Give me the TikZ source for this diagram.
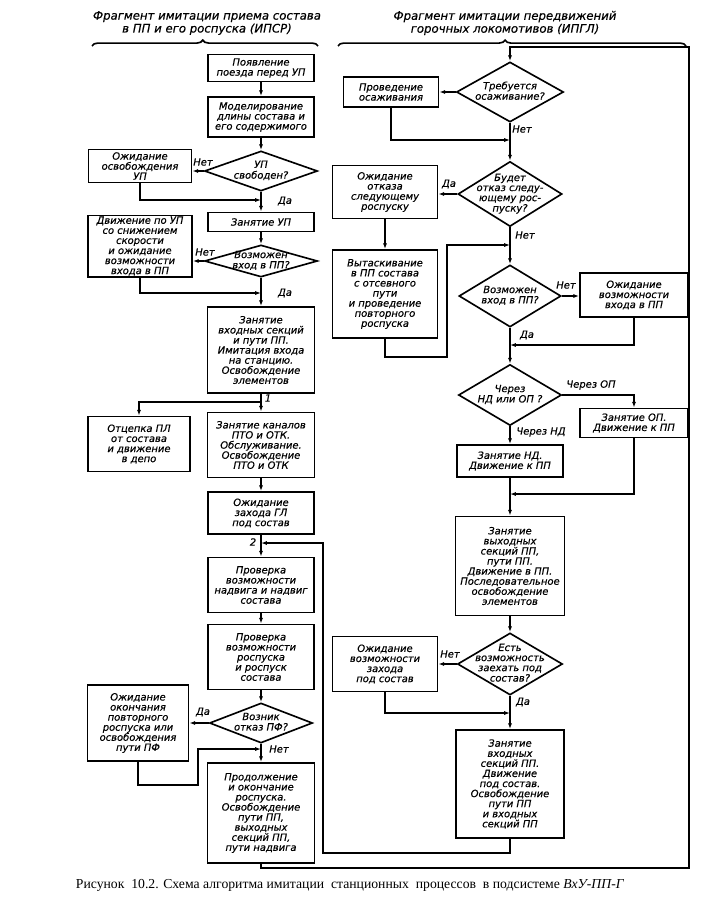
\documentclass[tikz,border=0pt]{standalone}
\usepackage{fontspec}
\setmainfont{Liberation Serif}
\newfontfamily\gost[FakeBold=0.4]{DejaVu Sans}
\usetikzlibrary{shapes.geometric,arrows.meta,decorations.pathreplacing}
\newcommand{\dtxt}[1]{\makebox[0pt]{\smash{\raisebox{-0.25em}{\begin{tabular}{@{}c@{}}#1\end{tabular}}}}}

\begin{document}
\begin{tikzpicture}[
    x=0.03cm, y=-0.03cm,
    block_style/.style={draw, line width=1.4pt, align=center, inner sep=1pt,
        font=\gost\itshape\fontsize{8.5}{8.6}\selectfont},
    size_style/.style 2 args={minimum width=#1*0.03cm, minimum height=#2*0.03cm},
    cond_style/.style={diamond, draw, line width=1.4pt, inner sep=0pt,
        font=\gost\itshape\fontsize{8.5}{8.6}\selectfont},
    lbl_style/.style={inner sep=0pt, font=\gost\itshape\fontsize{8.5}{9}\selectfont},
    title_style/.style={align=center, inner sep=0pt, font=\gost\itshape\fontsize{10}{11}\selectfont},
    line_style/.style={line width=1.4pt},
    arr_style/.style={line_style, -{Latex[length=5pt,width=3.5pt]}}
]
\useasboundingbox (0,0) rectangle (724,918);

% Заголовки
\node[title_style] (tl) at (207,23) {Фрагмент имитации приема состава\\в ПП и его роспуска (ИПСР)};
\node[title_style] (tr) at (505,23) {Фрагмент имитации передвижений\\горочных локомотивов (ИПГЛ)};
\coordinate (bl1) at (92,46);
\coordinate (bl2) at (318,46);
\coordinate (br1) at (338,46);
\coordinate (br2) at (686,46);
\draw[line_style, decorate, decoration={brace, amplitude=5pt, aspect=0.49}] (bl1) -- (bl2);
\draw[line_style, decorate, decoration={brace, amplitude=5pt, aspect=0.48}] (br1) -- (br2);

% ИПСР : левая колонка
\node[block_style, size_style={106}{27}] (a1) at (261,68) {Появление\\поезда перед УП};
\node[block_style, size_style={106}{40}] (a2) at (261,117) {Моделирование\\длины состава и\\его содержимого};
\node[cond_style, size_style={113}{40}] (d1) at (261,171) {\dtxt{УП\\свободен?}};
\node[block_style, size_style={103}{33}] (b1) at (140,166) {Ожидание\\освобождения\\УП};
\node[block_style, size_style={106}{19}] (a3) at (261,222) {Занятие УП};
\node[cond_style, size_style={113}{32}] (d2) at (261,261) {\dtxt{Возможен\\вход в ПП?}};
\node[block_style, size_style={104}{61}] (b2) at (140,246) {Движение по УП\\со снижением\\скорости\\и ожидание\\возможности\\входа в ПП};
\node[block_style, size_style={107}{86}] (a4) at (261,350) {Занятие\\входных секций\\и пути ПП.\\Имитация входа\\на станцию.\\Освобождение\\элементов};
\node[block_style, size_style={102}{55}] (b4) at (139,444) {Отцепка ПЛ\\от состава\\и движение\\в депо};
\node[block_style, size_style={107}{65}] (a5) at (261,445) {Занятие каналов\\ПТО и ОТК.\\Обслуживание.\\Освобождение\\ПТО и ОТК};
\node[block_style, size_style={106}{42}] (a6) at (261,513) {Ожидание\\захода ГЛ\\под состав};
\node[block_style, size_style={106}{55}] (a7) at (261,585) {Проверка\\возможности\\надвига и надвиг\\состава};
\node[block_style, size_style={106}{65}] (a8) at (261,657) {Проверка\\возможности\\роспуска\\и роспуск\\состава};
\node[cond_style, size_style={103}{40}] (d3) at (261,723) {\dtxt{Возник\\отказ ПФ?}};
\node[block_style, size_style={101}{76}] (b8) at (138,723) {Ожидание\\окончания\\повторного\\роспуска или\\освобождения\\пути ПФ};
\node[block_style, size_style={107}{100}] (a9) at (261,813) {Продолжение\\и окончание\\роспуска.\\Освобождение\\пути ПП,\\выходных\\секций ПП,\\пути надвига};

\coordinate (j1) at (261,200);
\coordinate (j2) at (261,293);
\coordinate (j3) at (261,402);
\coordinate (j4) at (261,543);
\coordinate (j5) at (261,749);
\coordinate (k5) at (198,785);

% ИПГЛ : правая колонка
\node[cond_style, size_style={107}{60}] (c0) at (510,92) {\dtxt{Требуется\\осаживание?}};
\node[block_style, size_style={95}{30}] (e0) at (391,92) {Проведение\\осаживания};
\node[cond_style, size_style={104}{65}] (c1) at (510,194) {\dtxt{Будет\\отказ следу-\\ющему рос-\\пуску?}};
\node[block_style, size_style={105}{53}] (e1) at (385,192) {Ожидание\\отказа\\следующему\\роспуску};
\node[block_style, size_style={105}{88}] (e2) at (385,294) {Вытаскивание\\в ПП состава\\с отсевного\\пути\\и проведение\\повторного\\роспуска};
\node[cond_style, size_style={102}{62}] (c2) at (510,296) {\dtxt{Возможен\\вход в ПП?}};
\node[block_style, size_style={108}{44}] (f2) at (634,295) {Ожидание\\возможности\\входа в ПП};
\node[cond_style, size_style={103}{61}] (c3) at (510,395) {\dtxt{Через\\НД или ОП ?}};
\node[block_style, size_style={108}{29}] (f3) at (634,423) {Занятие ОП.\\Движение к ПП};
\node[block_style, size_style={106}{32}] (g3) at (510,461) {Занятие НД.\\Движение к ПП};
\node[block_style, size_style={109}{99}] (g4) at (510,566) {Занятие\\выходных\\секций ПП,\\пути ПП.\\Движение в ПП.\\Последовательное\\освобождение\\элементов};
\node[cond_style, size_style={105}{62}] (c4) at (510,664) {\dtxt{Есть\\возможность\\заехать под\\состав?}};
\node[block_style, size_style={105}{55}] (e4) at (385,664) {Ожидание\\возможности\\захода\\под состав};
\node[block_style, size_style={108}{108}] (g5) at (510,784) {Занятие\\входных\\секций ПП.\\Движение\\под состав.\\Освобождение\\пути ПП\\и входных\\секций ПП};

\coordinate (j6) at (510,140);
\coordinate (j7) at (510,245);
\coordinate (k7) at (447,357);
\coordinate (j8) at (510,345);
\coordinate (j9) at (510,494);
\coordinate (j10) at (510,713);
\coordinate (lbot) at (323,853);
\coordinate (rbot) at (689,868);
\coordinate (top) at (510,47);

% Связи
\foreach \u/\v in {a1/a2, a2/d1, d1/a3, a3/d2, d2/a4, a4/a5, a5/a6, a6/a7, a7/a8, a8/d3, d3/a9,
                   c0/c1, e1/e2, c1/c2, c2/c3, c3/g3, g3/g4, g4/c4, c4/g5}
    \draw[arr_style] (\u) -- (\v);

\draw[arr_style] (d1.west) -- (b1.east |- d1.west);
\draw[arr_style] (b1) |- (j1);
\draw[arr_style] (d2.west) -- (b2.east |- d2.west);
\draw[arr_style] (b2) |- (j2);
\draw[arr_style] (j3) -| (b4);
\draw[arr_style] (d3.west) -- (b8.east |- d3.west);
\draw[arr_style] (b8) |- (k5) |- (j5);

\draw[arr_style] (c0.west) -- (e0.east |- c0.west);
\draw[arr_style] (e0) |- (j6);
\draw[arr_style] (c1.west) -- (e1.east |- c1.west);
\draw[arr_style] (e2) |- (k7) |- (j7);
\draw[arr_style] (c2.east) -- (f2.west |- c2.east);
\draw[arr_style] (f2) |- (j8);
\draw[arr_style] (c3.east) -| (f3);
\draw[arr_style] (f3) |- (j9);
\draw[arr_style] (c4.west) -- (e4.east |- c4.west);
\draw[arr_style] (e4) |- (j10);

% Возвраты
\draw[arr_style] (g5) |- (lbot) |- (j4);
\draw[arr_style] (a9) |- (rbot) |- (top) -- (c0);

% Подписи
\node[lbl_style] (n1) at (203,162) {Нет};
\node[lbl_style] (y1) at (285,201) {Да};
\node[lbl_style] (n2) at (205,252) {Нет};
\node[lbl_style] (y2) at (285,293) {Да};
\node[lbl_style] (m1) at (268,398) {1};
\node[lbl_style] (m2) at (253,542) {2};
\node[lbl_style] (y3) at (203,712) {Да};
\node[lbl_style] (n3) at (279,749) {Нет};
\node[lbl_style] (n4) at (522,129) {Нет};
\node[lbl_style] (y4) at (449,184) {Да};
\node[lbl_style] (n5) at (525,235) {Нет};
\node[lbl_style] (n6) at (566,285) {Нет};
\node[lbl_style] (y6) at (527,335) {Да};
\node[lbl_style] (op) at (591,385) {Через ОП};
\node[lbl_style] (nd) at (541,432) {Через НД};
\node[lbl_style] (n7) at (450,654) {Нет};
\node[lbl_style] (y7) at (523,702) {Да};

% Подпись рисунка
\node[inner sep=0pt, font=\fontsize{11.7}{14}\selectfont] (cap) at (350,885)
    {Рисунок\ \ 10.2. Схема алгоритма имитации\ \ станционных\ \ процессов\ \ в подсистеме \textit{ВхУ-ПП-Г}};
\end{tikzpicture}
\end{document}
